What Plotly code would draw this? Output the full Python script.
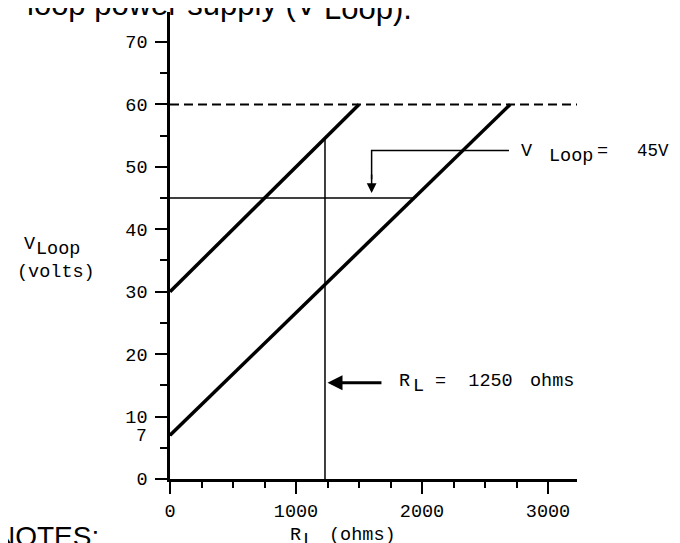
import plotly.graph_objects as go

# load lines
rl_line1 = [0, 1500]
v_line1 = [30, 60]
rl_line2 = [0, 2700]
v_line2 = [7, 60]
v_limit = 60
v_loop = 45
rl_value = 1230
x_max = 3230
y_max = 74.8

x_ticks = [0, 1000, 2000, 3000]
y_ticks = [0, 10, 20, 30, 40, 50, 60, 70]

mono = "Liberation Mono"
sans = "Liberation Sans"

slope2 = (v_line2[1] - v_line2[0]) / (rl_line2[1] - rl_line2[0])
slope1 = (v_line1[1] - v_line1[0]) / (rl_line1[1] - rl_line1[0])
rl_at_45 = (v_loop - v_line2[0]) / slope2
v_at_rl = v_line1[0] + slope1 * rl_value


# page pixel -> paper coords (plot area spans 170..577 x 12..479 on the page)
def px(x):
    return (x - 170) / 407


def py(y):
    return (479 - y) / 467


fig = go.Figure()

# 60V limit (dashed)
fig.add_trace(go.Scatter(x=[0, x_max], y=[v_limit, v_limit], mode="lines",
                         line=dict(color="black", width=2, dash="9px,5px")))
# the two load lines
fig.add_trace(go.Scatter(x=rl_line1, y=v_line1, mode="lines",
                         line=dict(color="black", width=3.5)))
fig.add_trace(go.Scatter(x=rl_line2, y=v_line2, mode="lines",
                         line=dict(color="black", width=3.5)))
# 45V horizontal and 1250 ohm vertical
fig.add_trace(go.Scatter(x=[0, rl_at_45], y=[v_loop, v_loop], mode="lines",
                         line=dict(color="black", width=1.5)))
fig.add_trace(go.Scatter(x=[rl_value, rl_value], y=[0, v_at_rl], mode="lines",
                         line=dict(color="black", width=1.5)))
# leader for the V_Loop callout
fig.add_trace(go.Scatter(x=[2690, 1600, 1600], y=[52.6, 52.6, 48], mode="lines",
                         line=dict(color="black", width=1.5)))

fig.add_annotation(x=1600, y=45.8, ax=1600, ay=49, xref="x", yref="y",
                   axref="x", ayref="y", text="", showarrow=True,
                   arrowhead=2, arrowsize=1.3, arrowwidth=1.5, arrowcolor="black")
fig.add_annotation(x=rl_value + 20, y=15.4, ax=1690, ay=15.4, xref="x", yref="y",
                   axref="x", ayref="y", text="", showarrow=True,
                   arrowhead=2, arrowsize=1, arrowwidth=3, arrowcolor="black")


def label(text, x, y, size=18.5, family=mono, xanchor="left", yanchor="middle"):
    fig.add_annotation(x=px(x), y=py(y), xref="paper", yref="paper",
                       xanchor=xanchor, yanchor=yanchor, text=text,
                       showarrow=False, borderpad=0,
                       font=dict(family=family, size=size, color="black"))


# V_Loop = 45V callout
label("V", 520, 151)
label("Loop", 548, 156)
label("=", 596, 151)
label("45V", 636, 151, size=17.5)

# R_L = 1250 ohms callout
label("R", 398, 381)
label("L", 412, 386)
label("=  1250", 434, 381)
label("ohms", 529, 381)

# extra "7" label on the y axis
label("7", 148, 436, size=18, xanchor="right")

# axis titles
label("V", 23, 244)
label("Loop", 35, 249)
label("(volts)", 56, 272, xanchor="center")
label("R", 289, 535)
label("L", 302, 540)
label("(ohms)", 328, 535)

# surrounding page text, cut off by the crop
label("loop power supply (V", 26, 23, size=31, family=sans, yanchor="bottom")
label("Loop).", 323, 27, size=31, family=sans, yanchor="bottom")
label("NOTES:", -6, 520, size=28, family=sans, yanchor="top")

fig.update_layout(
    width=672, height=535,
    margin=dict(l=162, r=103, t=4, b=64),
    paper_bgcolor="white", plot_bgcolor="white",
    showlegend=False,
    xaxis=dict(range=[0, x_max], tickvals=x_ticks, showgrid=False, zeroline=False,
               showline=True, linecolor="black", linewidth=2.5,
               ticks="outside", ticklen=12, tickwidth=2, tickcolor="black",
               ticklabelstandoff=1,
               minor=dict(dtick=250, tick0=0, ticks="outside", ticklen=6,
                          tickwidth=2, tickcolor="black", showgrid=False),
               tickfont=dict(family=mono, size=18.5, color="black")),
    yaxis=dict(range=[0, y_max], tickvals=y_ticks, showgrid=False, zeroline=False,
               showline=True, linecolor="black", linewidth=2.5,
               ticks="outside", ticklen=12, tickwidth=2, tickcolor="black",
               ticklabelstandoff=4,
               minor=dict(dtick=5, tick0=0, ticks="outside", ticklen=7,
                          tickwidth=2, tickcolor="black", showgrid=False),
               tickfont=dict(family=mono, size=18.5, color="black")),
)

fig.write_html("out.html")
